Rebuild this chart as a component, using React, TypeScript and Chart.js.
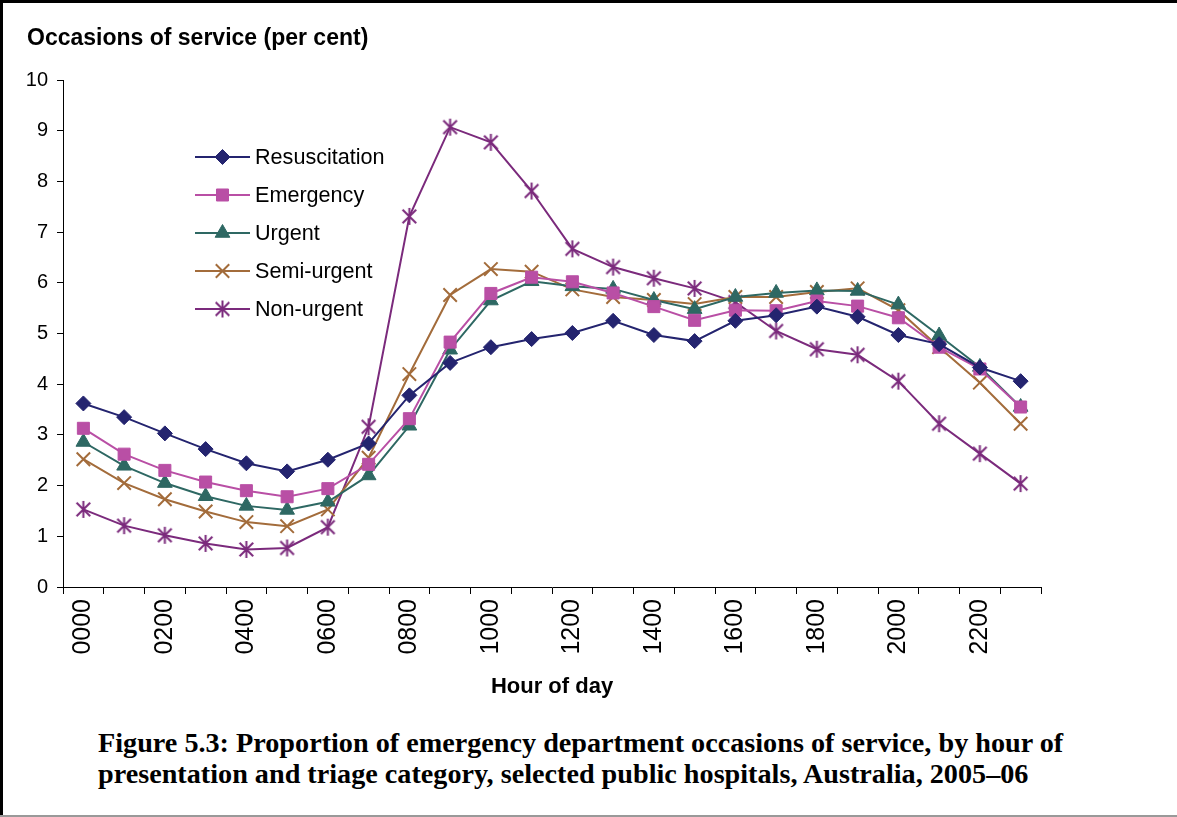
import React, { useEffect, useRef } from "react";
import { Chart, registerables } from "chart.js";
import { drawPoint } from "chart.js/helpers";

Chart.register(...registerables);

const hours = [
  "0000", "0100", "0200", "0300", "0400", "0500", "0600", "0700",
  "0800", "0900", "1000", "1100", "1200", "1300", "1400", "1500",
  "1600", "1700", "1800", "1900", "2000", "2100", "2200", "2300",
];

const resuscitation = [3.62, 3.35, 3.03, 2.72, 2.44, 2.28, 2.51, 2.83, 3.78, 4.42, 4.73, 4.89, 5.01, 5.25, 4.97, 4.85, 5.25, 5.36, 5.53, 5.33, 4.97, 4.79, 4.33, 4.06];
const emergency = [3.13, 2.62, 2.30, 2.07, 1.90, 1.78, 1.94, 2.42, 3.32, 4.83, 5.79, 6.11, 6.02, 5.80, 5.53, 5.26, 5.46, 5.45, 5.64, 5.54, 5.31, 4.73, 4.30, 3.55];
const urgent = [2.86, 2.39, 2.05, 1.79, 1.60, 1.52, 1.68, 2.20, 3.18, 4.68, 5.65, 6.03, 5.93, 5.88, 5.66, 5.48, 5.72, 5.80, 5.85, 5.84, 5.57, 4.96, 4.34, 3.55];
const semiUrgent = [2.52, 2.05, 1.73, 1.49, 1.28, 1.20, 1.53, 2.55, 4.20, 5.76, 6.27, 6.22, 5.87, 5.72, 5.66, 5.58, 5.72, 5.72, 5.82, 5.89, 5.46, 4.73, 4.03, 3.22];
const nonUrgent = [1.53, 1.21, 1.02, 0.86, 0.74, 0.77, 1.18, 3.16, 7.31, 9.07, 8.77, 7.81, 6.67, 6.31, 6.09, 5.89, 5.62, 5.05, 4.69, 4.58, 4.06, 3.22, 2.63, 2.04];

const seriesNames = ["Resuscitation", "Emergency", "Urgent", "Semi-urgent", "Non-urgent"];
const seriesColors = ["#24246f", "#b94fa5", "#2e6863", "#a36c3b", "#7b2a7c"];

const yTicks = [0, 1, 2, 3, 4, 5, 6, 7, 8, 9, 10];

const SANS = "'Liberation Sans', Arial, sans-serif";

function makeStar(color: string, r: number) {
  const c = document.createElement("canvas");
  const s = Math.ceil(2 * r + 4);
  c.width = s;
  c.height = s;
  const ctx = c.getContext("2d")!;
  const m = s / 2;
  ctx.strokeStyle = color;
  ctx.lineWidth = 2;
  ctx.beginPath();
  const d = r * 0.8;
  ctx.moveTo(m - d, m - d);
  ctx.lineTo(m + d, m + d);
  ctx.moveTo(m + d, m - d);
  ctx.lineTo(m - d, m + d);
  ctx.moveTo(m, m - r);
  ctx.lineTo(m, m + r);
  ctx.stroke();
  return c;
}

export default function App() {
  const ref = useRef<HTMLCanvasElement>(null);

  useEffect(() => {
    const canvas = ref.current!;
    const star = makeStar(seriesColors[4], 8.5);
    const styles: any[] = [
      { pointStyle: "rectRot", radius: 7.5 },
      { pointStyle: "rect", radius: 8.5 },
      { pointStyle: "triangle", radius: 8.5 },
      { pointStyle: "crossRot", radius: 9.5 },
      { pointStyle: star, radius: 8.5 },
    ];
    const values = [resuscitation, emergency, urgent, semiUrgent, nonUrgent];

    const datasets = values.map((v, i) => ({
      label: seriesNames[i],
      data: v,
      borderColor: seriesColors[i],
      backgroundColor: seriesColors[i],
      borderWidth: 2,
      pointStyle: styles[i].pointStyle,
      pointRadius: styles[i].radius,
      pointBorderWidth: i >= 3 ? 2 : 1,
      pointBackgroundColor: seriesColors[i],
      pointBorderColor: seriesColors[i],
      tension: 0,
      fill: false,
    }));

    const overlay = {
      id: "overlay",
      afterDraw(chart: any) {
        const ctx = chart.ctx;
        const area = chart.chartArea;
        ctx.save();
        // y-axis title
        ctx.fillStyle = "#000";
        ctx.font = `bold 23px ${SANS}`;
        ctx.textBaseline = "middle";
        ctx.textAlign = "left";
        ctx.fillText("Occasions of service (per cent)", 27, 39);
        // legend
        const lx0 = area.left + 132;
        const lx1 = area.left + 187;
        const tx = area.left + 192;
        const y0 = 157;
        const gap = 38;
        chart.data.datasets.forEach((ds: any, i: number) => {
          const y = y0 + i * gap;
          ctx.strokeStyle = ds.borderColor;
          ctx.lineWidth = 2;
          ctx.beginPath();
          ctx.moveTo(lx0, y);
          ctx.lineTo(lx1, y);
          ctx.stroke();
          ctx.fillStyle = ds.pointBackgroundColor;
          ctx.strokeStyle = ds.pointBorderColor;
          ctx.lineWidth = ds.pointBorderWidth;
          drawPoint(
            ctx,
            { pointStyle: ds.pointStyle, rotation: 0, radius: ds.pointRadius, borderWidth: ds.pointBorderWidth },
            (lx0 + lx1) / 2,
            y
          );
          ctx.fillStyle = "#000";
          ctx.font = `21.6px ${SANS}`;
          ctx.textBaseline = "middle";
          ctx.textAlign = "left";
          ctx.fillText(ds.label, tx, y + 1);
        });
        ctx.restore();
      },
    };

    const chart = new Chart(canvas, {
      type: "line",
      data: { labels: hours, datasets },
      options: {
        animation: false,
        responsive: false,
        maintainAspectRatio: false,
        layout: { padding: { top: 80, right: 136, left: 0, bottom: 0 } },
        plugins: {
          legend: { display: false },
          title: { display: false },
          tooltip: { enabled: false },
        },
        scales: {
          x: {
            type: "category",
            offset: true,
            afterFit(scale: any) {
              scale.height = 123;
            },
            grid: {
              offset: true,
              drawOnChartArea: false,
              drawTicks: true,
              tickLength: 7,
              color: "#000",
              lineWidth: 1,
            },
            border: { display: true, color: "#000", width: 1 },
            ticks: {
              autoSkip: false,
              maxRotation: 90,
              minRotation: 90,
              padding: 5,
              color: "#000",
              font: { family: SANS, size: 25 },
              callback: (_v: any, i: number) => (i % 2 === 0 ? hours[i] : ""),
            },
            title: {
              display: true,
              text: "Hour of day",
              color: "#000",
              font: { family: SANS, size: 22, weight: "bold" },
              padding: { top: 0, bottom: 10 },
            },
          },
          y: {
            min: 0,
            max: 10,
            afterFit(scale: any) {
              scale.width = 63;
            },
            afterBuildTicks(scale: any) {
              scale.ticks = yTicks.map((v) => ({ value: v }));
            },
            grid: {
              drawOnChartArea: false,
              drawTicks: true,
              tickLength: 6,
              color: "#000",
              lineWidth: 1,
            },
            border: { display: true, color: "#000", width: 1 },
            ticks: {
              padding: 9,
              color: "#000",
              font: { family: SANS, size: 20 },
            },
          },
        },
      },
      plugins: [overlay],
    });

    return () => chart.destroy();
  }, []);

  return (
    <div
      style={{
        position: "absolute",
        left: 0,
        top: 0,
        width: 1177,
        height: 817,
        background: "#fff",
        overflow: "hidden",
      }}
    >
      <canvas ref={ref} width={1177} height={710} style={{ position: "absolute", left: 0, top: 0, width: 1177, height: 710 }} />
      <div style={{ position: "absolute", left: 0, top: 0, width: 3, height: 817, background: "#000" }} />
      <div style={{ position: "absolute", left: 0, top: 0, width: 1177, height: 3, background: "#000" }} />
      <div style={{ position: "absolute", left: 0, top: 815, width: 1177, height: 2, background: "#999" }} />
      <div
        style={{
          position: "absolute",
          left: 98,
          top: 727,
          fontFamily: "'Liberation Serif', 'Times New Roman', serif",
          fontWeight: "bold",
          fontSize: 28.2,
          lineHeight: "31px",
          whiteSpace: "nowrap",
          color: "#000",
        }}
      >
        Figure 5.3: Proportion of emergency department occasions of service, by hour of
        <br />
        presentation and triage category, selected public hospitals, Australia, 2005–06
      </div>
    </div>
  );
}
